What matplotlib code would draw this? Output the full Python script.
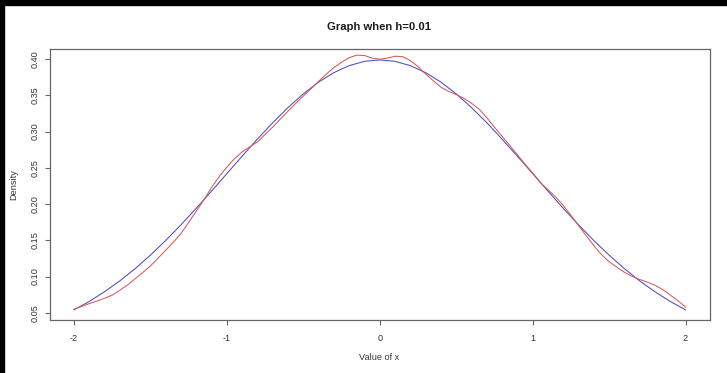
import matplotlib
matplotlib.use('Agg')
import matplotlib.pyplot as plt
from matplotlib.patches import Rectangle

x_azul = [-2.0, -1.9, -1.8, -1.7, -1.6, -1.5, -1.4, -1.3, -1.2, -1.1, -1.0,
          -0.9, -0.8, -0.7, -0.6, -0.5, -0.4, -0.3, -0.2, -0.1, 0.0,
          0.1, 0.2, 0.3, 0.4, 0.5, 0.6, 0.7, 0.8, 0.9, 1.0,
          1.1, 1.2, 1.3, 1.4, 1.5, 1.6, 1.7, 1.8, 1.9, 2.0]
y_azul = [0.0540, 0.0656, 0.0790, 0.0940, 0.1109, 0.1295, 0.1497, 0.1714, 0.1942, 0.2179, 0.2420,
          0.2661, 0.2897, 0.3123, 0.3332, 0.3521, 0.3683, 0.3814, 0.3910, 0.3970, 0.3989,
          0.3970, 0.3910, 0.3814, 0.3683, 0.3521, 0.3332, 0.3123, 0.2897, 0.2661, 0.2420,
          0.2179, 0.1942, 0.1714, 0.1497, 0.1295, 0.1109, 0.0940, 0.0790, 0.0656, 0.0540]

# Estimativa (curva vermelha), passos de 0.05
x_verm = [-2.00, -1.95, -1.90, -1.85, -1.80, -1.75, -1.70, -1.65, -1.60, -1.55,
          -1.50, -1.45, -1.40, -1.35, -1.30, -1.25, -1.20, -1.15, -1.10, -1.05,
          -1.00, -0.95, -0.90, -0.85, -0.80, -0.75, -0.70, -0.65, -0.60, -0.55,
          -0.50, -0.45, -0.40, -0.35, -0.30, -0.25, -0.20, -0.15, -0.10, -0.05,
          0.00, 0.05, 0.10, 0.15, 0.20, 0.25, 0.30, 0.35, 0.40, 0.45,
          0.50, 0.55, 0.60, 0.65, 0.70, 0.75, 0.80, 0.85, 0.90, 0.95,
          1.00, 1.05, 1.10, 1.15, 1.20, 1.25, 1.30, 1.35, 1.40, 1.45,
          1.50, 1.55, 1.60, 1.65, 1.70, 1.75, 1.80, 1.85, 1.90, 1.95, 2.00]
y_verm = [0.0550, 0.0586, 0.0626, 0.0661, 0.0700, 0.0743, 0.0810, 0.0883, 0.0969, 0.1055,
          0.1145, 0.1254, 0.1362, 0.1474, 0.1594, 0.1746, 0.1902, 0.2059, 0.2229, 0.2379,
          0.2510, 0.2626, 0.2721, 0.2790, 0.2857, 0.2961, 0.3063, 0.3174, 0.3282, 0.3389,
          0.3491, 0.3590, 0.3693, 0.3792, 0.3884, 0.3957, 0.4020, 0.4055, 0.4050, 0.4014,
          0.3999, 0.4014, 0.4040, 0.4035, 0.3980, 0.3897, 0.3794, 0.3702, 0.3613, 0.3555,
          0.3511, 0.3459, 0.3392, 0.3310, 0.3193, 0.3061, 0.2937, 0.2810, 0.2681, 0.2551,
          0.2430, 0.2299, 0.2199, 0.2099, 0.1982, 0.1846, 0.1704, 0.1564, 0.1427, 0.1304,
          0.1205, 0.1130, 0.1059, 0.1003, 0.0960, 0.0923, 0.0880, 0.0821, 0.0746, 0.0666, 0.0580]

x_ticks = [-2, -1, 0, 1, 2]
y_ticks = [0.05, 0.10, 0.15, 0.20, 0.25, 0.30, 0.35, 0.40]

plt.rcParams['font.family'] = ['Liberation Sans', 'DejaVu Sans']

W, H = 727, 373
fig = plt.figure(figsize=(W / 100, H / 100), dpi=100)
ax = fig.add_axes([49.5 / W, 1 - 320 / H, (710 - 49.5) / W, (320 - 49) / H])

ax.plot(x_azul, y_azul, color='#4c4cc0', lw=0.75)
ax.plot(x_verm, y_verm, color='#d45a5a', lw=0.75)

ax.set_xlim(-2.16, 2.16)
ax.set_ylim(0.040, 0.414)
ax.set_xticks(x_ticks)
ax.set_xticklabels([str(v) for v in x_ticks])
ax.set_yticks(y_ticks)
ax.set_yticklabels([f'{v:.2f}' for v in y_ticks], rotation=90, va='center')

for s in ax.spines.values():
    s.set_color('#666666')
    s.set_linewidth(0.9)
ax.tick_params(length=3.8, width=0.8, color='#666666', labelsize=6.6,
               labelcolor='#333333')
ax.tick_params(axis='x', pad=6.5)
ax.tick_params(axis='y', pad=3.5)

# Título e rótulos
fig.text(379.5 / W, 1 - 27 / H, 'Graph when h=0.01', ha='center', va='center',
         fontsize=8.1, fontweight='bold', color='#1a1a1a')
fig.text(379.5 / W, 1 - 357 / H, 'Value of x', ha='center', va='center',
         fontsize=6.6, color='#333333')
fig.text(14 / W, 1 - 185 / H, 'Density', ha='center', va='center',
         rotation=90, fontsize=6.6, color='#333333')

# Borda preta do print original
fig.patches.append(Rectangle((0, 1 - 5 / H), 1, 5 / H, transform=fig.transFigure,
                             color='black', zorder=10))
fig.patches.append(Rectangle((0, 0), 4 / W, 1, transform=fig.transFigure,
                             color='black', zorder=10))

fig.savefig('out.png', dpi=100)
